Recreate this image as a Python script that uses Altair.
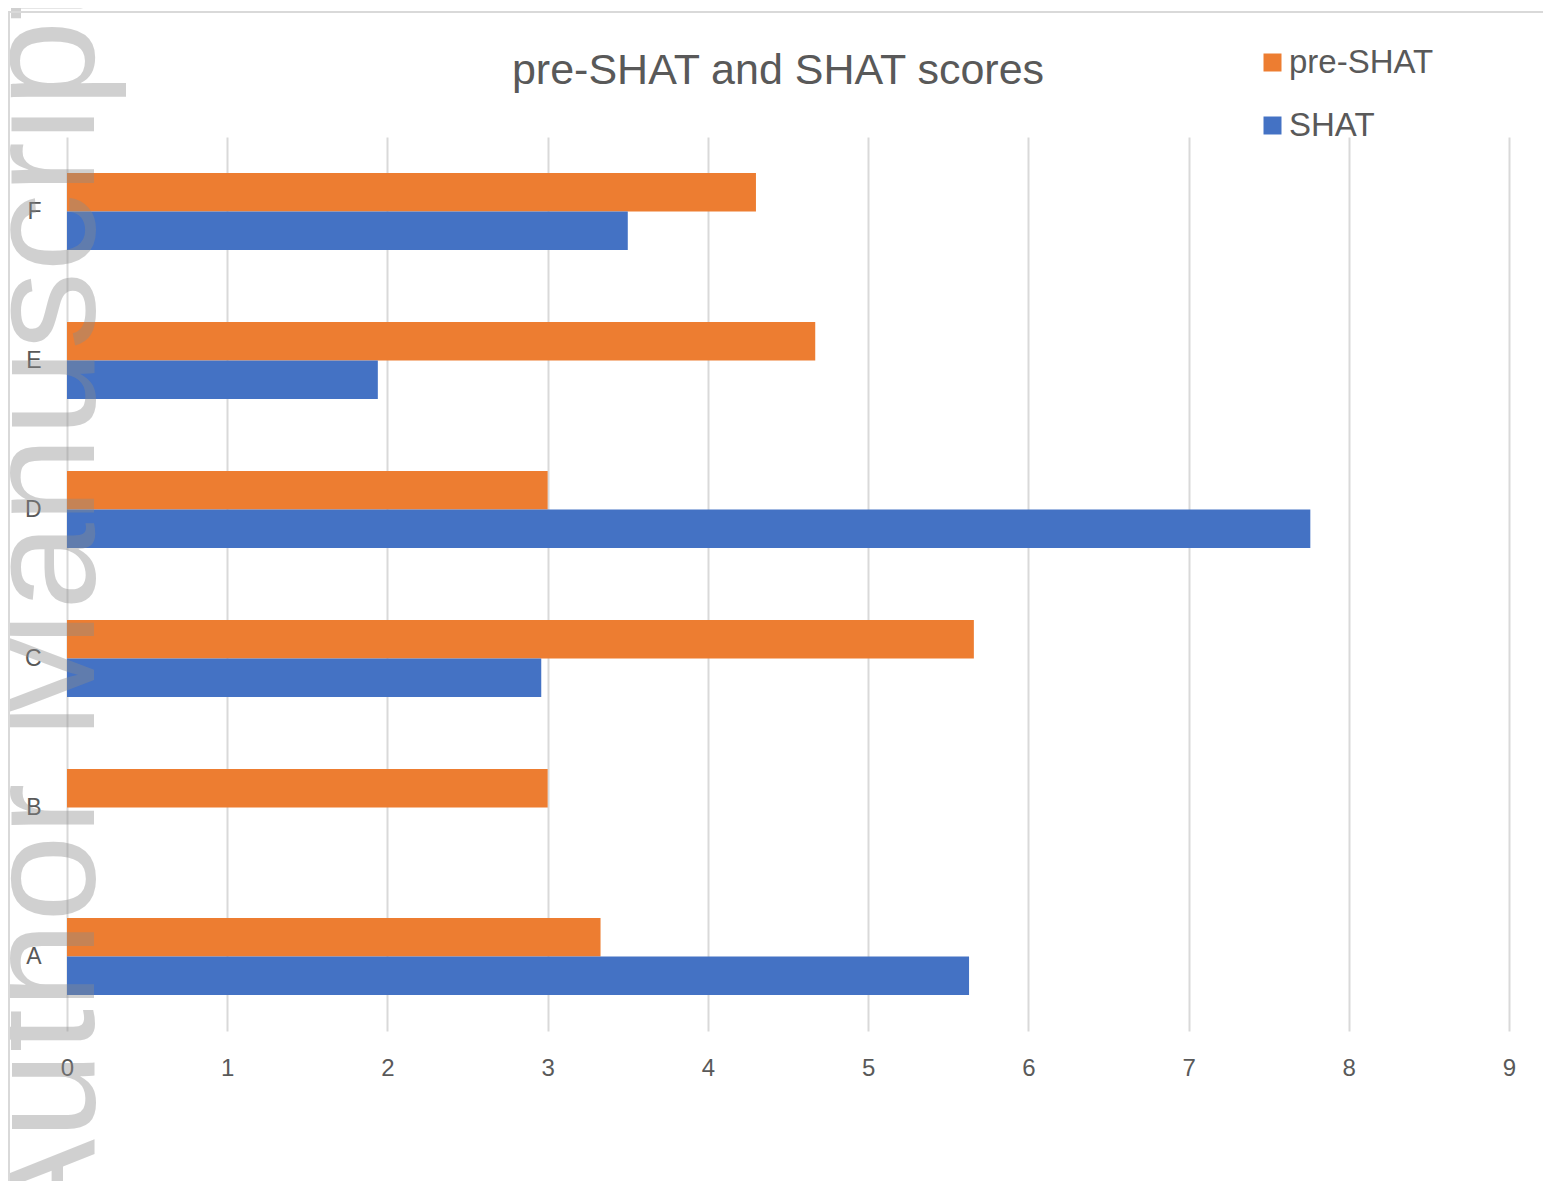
import altair as alt
import pandas as pd

categories = ["A", "B", "C", "D", "E", "F"]
pre_shat = [3.33, 3.00, 5.66, 3.00, 4.67, 4.30]
shat = [5.63, 0.0, 2.96, 7.76, 1.94, 3.50]
series = ["pre-SHAT", "SHAT"]
x_ticks = [0, 1, 2, 3, 4, 5, 6, 7, 8, 9]
title_text = "pre-SHAT and SHAT scores"
watermark_text = "Author Manuscript"

rows = []
for c, p, s in zip(categories, pre_shat, shat):
    rows.append({"category": c, "series": "pre-SHAT", "value": p})
    rows.append({"category": c, "series": "SHAT", "value": s})
df = pd.DataFrame(rows)

W, H = 1442, 894
PAD = {"left": 59, "top": 129, "right": 34, "bottom": 150}
FONT = "Liberation Sans"
TXT = "#595959"

bars = alt.Chart(df).mark_bar().encode(
    y=alt.Y("category:N", sort=categories[::-1],
            scale=alt.Scale(paddingInner=0.483, paddingOuter=0.2415),
            axis=alt.Axis(title=None, domain=False, ticks=False, labelPadding=26,
                          labelFontSize=23, labelColor=TXT, labelFont=FONT, grid=False)),
    x=alt.X("value:Q", scale=alt.Scale(domain=[0, 9], nice=False),
            axis=alt.Axis(title=None, values=x_ticks, domain=False, ticks=False, tickSize=0,
                          labelPadding=25, labelFontSize=24, labelColor=TXT, labelFont=FONT,
                          labelFlush=False,
                          grid=True, gridColor="#d9d9d9", gridWidth=2, format="d")),
    yOffset=alt.YOffset("series:N", sort=series,
                        scale=alt.Scale(domain=series, paddingInner=0, paddingOuter=0)),
    color=alt.Color("series:N",
                    scale=alt.Scale(domain=series, range=["#ED7D31", "#4472C4"]),
                    legend=alt.Legend(title=None, orient="none", legendX=1189, legendY=-91,
                                      symbolType="square", symbolSize=324, symbolStrokeWidth=0,
                                      labelFontSize=33, labelColor=TXT, labelFont=FONT,
                                      labelOffset=0, rowPadding=29, padding=0)),
)

title = alt.Chart(alt.Data(values=[{"t": title_text}])).mark_text(
    font=FONT, fontSize=43, align="center", baseline="alphabetic", color=TXT,
).encode(text="t:N", x=alt.value(711), y=alt.value(-53))

wm = alt.Chart(alt.Data(values=[{"t": watermark_text}])).mark_text(
    font=FONT, fontSize=156, angle=270, align="left", baseline="alphabetic",
    color="#8c8c8c", opacity=0.4,
).encode(text="t:N", x=alt.value(27), y=alt.value(1106))

frame_data = alt.Data(values=[{"k": 1}])
top_line = alt.Chart(frame_data).mark_rule(color="#d9d9d9", strokeWidth=2).encode(
    x=alt.value(-59), x2=alt.value(W + PAD["right"]), y=alt.value(-125))
left_line = alt.Chart(frame_data).mark_rule(color="#d9d9d9", strokeWidth=2).encode(
    x=alt.value(-58), y=alt.value(-125), y2=alt.value(H + PAD["bottom"]))

chart = alt.layer(bars, title, wm, top_line, left_line).properties(
    width=W, height=H,
    autosize=alt.AutoSizeParams(type="none"),
    padding=PAD,
).configure_view(stroke=None)

chart.save("out.html", embed_options={"renderer": "svg", "actions": False})
